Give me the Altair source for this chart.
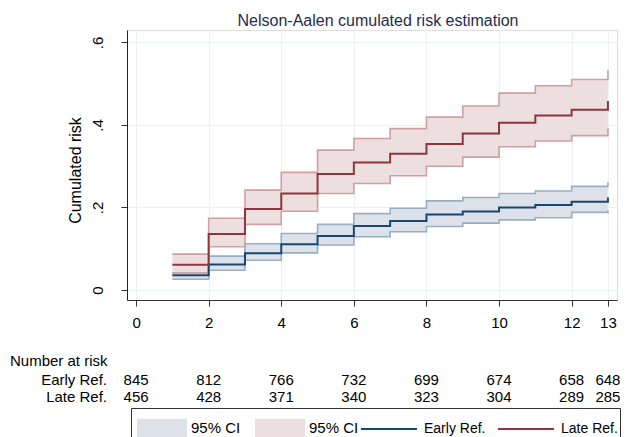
import altair as alt
import pandas as pd

# ---- data ----
times = [1, 2, 3, 4, 5, 6, 7, 8, 9, 10, 11, 12, 13]
early_est = [0.036, 0.062, 0.089, 0.111, 0.131, 0.155, 0.167, 0.183, 0.190, 0.200, 0.206, 0.214, 0.224]
early_lo = [0.026, 0.048, 0.072, 0.090, 0.109, 0.129, 0.141, 0.154, 0.162, 0.170, 0.175, 0.188, 0.193]
early_hi = [0.042, 0.082, 0.112, 0.137, 0.159, 0.185, 0.198, 0.216, 0.224, 0.234, 0.240, 0.251, 0.261]
late_est = [0.061, 0.136, 0.196, 0.234, 0.281, 0.309, 0.330, 0.354, 0.379, 0.405, 0.423, 0.437, 0.458]
late_lo = [0.042, 0.105, 0.159, 0.191, 0.234, 0.258, 0.277, 0.300, 0.322, 0.347, 0.361, 0.374, 0.392]
late_hi = [0.087, 0.174, 0.242, 0.285, 0.339, 0.367, 0.391, 0.419, 0.446, 0.477, 0.495, 0.510, 0.533]

risk_times = [0, 2, 4, 6, 8, 10, 12, 13]
risk_early = [845, 812, 766, 732, 699, 674, 658, 648]
risk_late = [456, 428, 371, 340, 323, 304, 289, 285]

groups = ["Early Ref.", "Late Ref."]
bands = ["Early CI", "Late CI"]
x_ticks = [0, 2, 4, 6, 8, 10, 12, 13]
y_ticks = [0, 0.2, 0.4, 0.6]
title_text = "Nelson-Aalen cumulated risk estimation"

FONT = "Liberation Sans"
BLUE = "#1a476f"
RED = "#90353b"
BLUE_FILL = "#dde2ea"
RED_FILL = "#eddfe0"
BLUE_EDGE = "#9aaec3"
RED_EDGE = "#cfa0a3"

W = 490
H = 270

df = pd.concat([
    pd.DataFrame({"t": times, "est": early_est, "lo": early_lo, "hi": early_hi,
                  "group": groups[0], "band": bands[0]}),
    pd.DataFrame({"t": times, "est": late_est, "lo": late_lo, "hi": late_hi,
                  "group": groups[1], "band": bands[1]}),
])

risk_df = pd.DataFrame({"t": risk_times, "early": risk_early, "late": risk_late})

xscale = alt.Scale(domain=[-0.25, 13.25], nice=False, zero=False)
yscale = alt.Scale(domain=[-0.0242, 0.630], nice=False, zero=False)

x_axis = alt.Axis(values=x_ticks, title="Period of follow-up [months]", grid=True,
                  gridColor="#eaf2f3", tickSize=6, labelPadding=21, labelBaseline="alphabetic",
                  labelFontSize=15, labelFont=FONT, labelColor="#000",
                  titleFont=FONT, titleFontSize=16, titleFontWeight="normal", titleColor="#000",
                  titleX=251, titleY=319.5, titleBaseline="alphabetic", titleAlign="center",
                  domainColor="#333", tickColor="#333", labelFlush=False)
y_axis = alt.Axis(values=y_ticks, title="Cumulated risk", grid=True, gridColor="#eaf2f3",
                  tickSize=6, labelAngle=-90, labelAlign="center", labelBaseline="alphabetic",
                  labelPadding=19, labelFontSize=15, labelFont=FONT, labelColor="#000",
                  labelExpr="datum.value == 0 ? '0' : replace(format(datum.value, '.1f'), '0.', '.')",
                  titleFont=FONT, titleFontSize=16, titleFontWeight="normal", titleColor="#000",
                  titleAngle=-90, titleX=-52, titleY=140, titleAlign="center", titleBaseline="middle",
                  domainColor="#222", tickColor="#333", labelFlush=False)

base = alt.Chart(df)

area = base.mark_area(interpolate="step-after", opacity=1).encode(
    x=alt.X("t:Q", scale=xscale, axis=x_axis),
    y=alt.Y("lo:Q", scale=yscale, axis=y_axis),
    y2="hi:Q",
    fill=alt.Fill("band:N", scale=alt.Scale(domain=bands, range=[BLUE_FILL, RED_FILL]),
                  legend=alt.Legend(orient="none", legendX=10, legendY=373, direction="horizontal",
                                    title=None, labelExpr="'95% CI'", symbolType="M-1,-0.38H1V0.38H-1Z",
                                    symbolSize=2500, symbolStrokeWidth=0, labelOffset=4,
                                    columnPadding=14, padding=0, labelFontSize=15, labelFont=FONT,
                                    labelColor="#000")),
)

edge_early = alt.Chart(df).transform_filter(alt.datum.group == groups[0]).transform_fold(
    ["lo", "hi"], as_=["bound", "v"]).mark_line(interpolate="step-after", strokeWidth=1.6).encode(
    x=alt.X("t:Q", scale=xscale), y=alt.Y("v:Q", scale=yscale), detail="bound:N",
    color=alt.value(BLUE_EDGE))
edge_late = alt.Chart(df).transform_filter(alt.datum.group == groups[1]).transform_fold(
    ["lo", "hi"], as_=["bound", "v"]).mark_line(interpolate="step-after", strokeWidth=1.6).encode(
    x=alt.X("t:Q", scale=xscale), y=alt.Y("v:Q", scale=yscale), detail="bound:N",
    color=alt.value(RED_EDGE))

lines = base.mark_line(interpolate="step-after", strokeWidth=2).encode(
    x=alt.X("t:Q", scale=xscale),
    y=alt.Y("est:Q", scale=yscale),
    stroke=alt.Stroke("group:N", scale=alt.Scale(domain=groups, range=[BLUE, RED]),
                      legend=alt.Legend(orient="none", legendX=233, legendY=370, direction="horizontal",
                                        title=None, symbolType="stroke", symbolSize=3136,
                                        symbolStrokeWidth=2, labelOffset=6, columnPadding=8,
                                        padding=0, labelFontSize=14, labelFont=FONT,
                                        labelColor="#000")),
)

risk = alt.Chart(risk_df)
risk_early_txt = risk.mark_text(fontSize=15, font=FONT, color="#000", baseline="alphabetic",
                                align="center").encode(
    x=alt.X("t:Q", scale=xscale), y=alt.value(355), text="early:Q")
risk_late_txt = risk.mark_text(fontSize=15, font=FONT, color="#000", baseline="alphabetic",
                               align="center").encode(
    x=alt.X("t:Q", scale=xscale), y=alt.value(372), text="late:Q")

lab_df = pd.DataFrame({"label": ["Number at risk", "Early Ref.", "Late Ref.", title_text],
                       "row": [0, 1, 2, 3]})
lab_title = alt.Chart(lab_df).transform_filter(alt.datum.row == 0).mark_text(
    fontSize=15, font=FONT, color="#000", baseline="alphabetic", align="left").encode(
    x=alt.value(-117), y=alt.value(336), text="label:N")
lab_early = alt.Chart(lab_df).transform_filter(alt.datum.row == 1).mark_text(
    fontSize=15, font=FONT, color="#000", baseline="alphabetic", align="right").encode(
    x=alt.value(-20), y=alt.value(355), text="label:N")
lab_late = alt.Chart(lab_df).transform_filter(alt.datum.row == 2).mark_text(
    fontSize=15, font=FONT, color="#000", baseline="alphabetic", align="right").encode(
    x=alt.value(-20), y=alt.value(372), text="label:N")
chart_title = alt.Chart(lab_df).transform_filter(alt.datum.row == 3).mark_text(
    fontSize=16, font=FONT, color="#1e2d4f", baseline="alphabetic", align="center").encode(
    x=alt.value(251), y=alt.value(-4), text="label:N")

frame = alt.Chart(pd.DataFrame({"k": [0]})).mark_rect(fill=None, stroke="#333", strokeWidth=1).encode(
    x=alt.value(4.5), x2=alt.value(493.5), y=alt.value(378.5), y2=alt.value(460))

chart = alt.layer(area, edge_early, edge_late, lines, risk_early_txt, risk_late_txt,
                  lab_title, lab_early, lab_late, chart_title, frame).properties(
    width=W, height=H,
    padding={"left": 119, "top": 22, "right": 5, "bottom": 140},
    autosize=alt.AutoSizeParams(type="none"),
).configure_view(stroke=None).configure(background="white")

chart.save("out.html", embed_options={"renderer": "svg", "actions": False})
